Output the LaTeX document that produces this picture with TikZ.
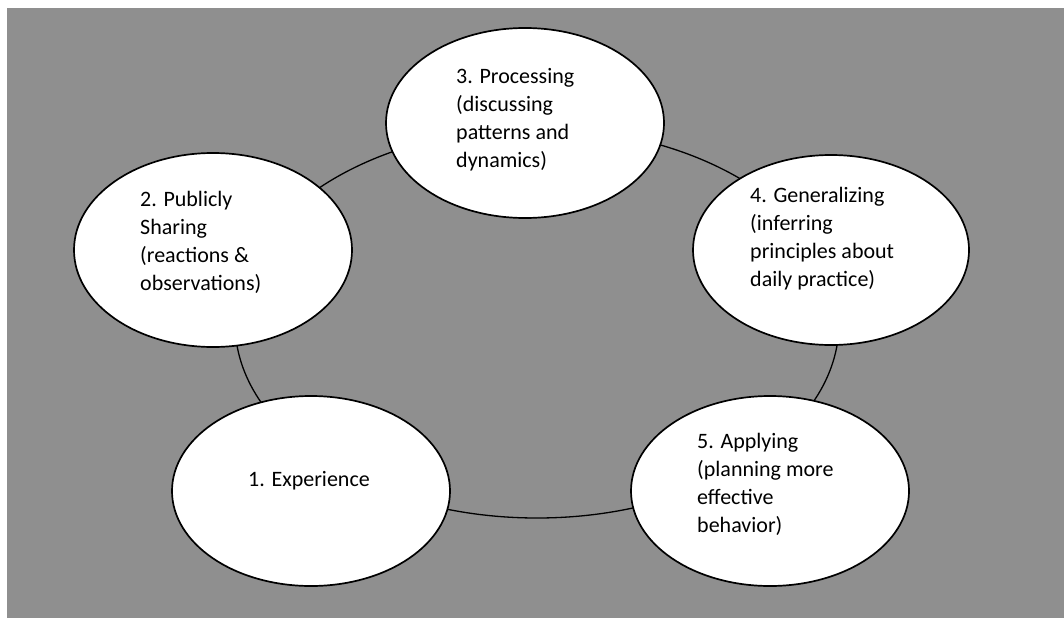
\documentclass[tikz,border=0pt]{standalone}
\usepackage{fontspec}
\setmainfont{Carlito}
\usetikzlibrary{shapes.geometric}
\definecolor{bggray}{RGB}{143,143,143}
\begin{document}
\begin{tikzpicture}[x=1pt,y=-1pt,
  stage/.style={ellipse,draw=black,line width=1.7pt,fill=white,inner sep=0pt,
    minimum width=278pt,minimum height=190pt},
  ring/.style={ellipse,draw=black,line width=1.3pt,inner sep=0pt},
  label/.style={align=left,inner sep=0pt,font=\fontsize{22}{28}\selectfont,text=black}]
\useasboundingbox (0,0) rectangle (1064,618);
\fill[bggray] (7,8) rectangle (1064,618);
% cycle ring
\node[ring,minimum width=604pt,minimum height=390pt] (cycle) at (537,323) {};
% stages
\node[stage] (e1) at (311,491) {};
\node[stage,minimum height=194pt] (e2) at (213,250) {};
\node[stage] (e3) at (525,123) {};
\node[stage,minimum width=276pt] (e4) at (831,250) {};
\node[stage] (e5) at (770,491) {};
% texts
\node[label,anchor=base west] (t1) at (248,486) {1. Experience};
\node[label,anchor=west] (t2) at (140,242) {2. Publicly\\Sharing\\(reactions \&\\observations)};
\node[label,anchor=west] (t3) at (456,120) {3. Processing\\(discussing\\patterns and\\dynamics)};
\node[label,anchor=west] (t4) at (750,239) {4. Generalizing\\(inferring\\principles about\\daily practice)};
\node[label,anchor=west] (t5) at (697,484) {5. Applying\\(planning more\\effective\\behavior)};
\end{tikzpicture}
\end{document}
